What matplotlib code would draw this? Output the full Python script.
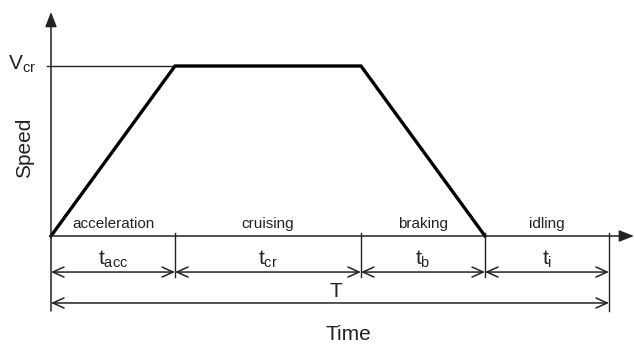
import matplotlib
matplotlib.use("agg")
import matplotlib.pyplot as plt

plt.rcParams['font.family'] = ['Liberation Sans', 'DejaVu Sans']
plt.rcParams['mathtext.fontset'] = 'custom'
plt.rcParams['mathtext.rm'] = 'Liberation Sans'
plt.rcParams['mathtext.it'] = 'Liberation Sans'

# driving cycle phases
phase_names = ['acceleration', 'cruising', 'braking', 'idling']
phase_durations = [2, 3, 2, 2]
phase_symbols = ['acc', 'cr', 'b', 'i']
v_cruise = 1.0

# speed profile corner points
profile_t = [0, 2, 5, 7]
profile_v = [0, v_cruise, v_cruise, 0]

total = sum(phase_durations)
bounds = [0]
for d in phase_durations:
    bounds.append(bounds[-1] + d)

ink = '#222222'
fig = plt.figure(figsize=(6.34, 3.45), dpi=100)
ax = fig.add_axes([0, 0, 1, 1])
ax.set_xlim(-51 / 62, 583 / 62)
ax.set_ylim(-109 / 170, 236 / 170)
ax.axis('off')

# axes with arrows
ax.annotate('', xy=(0, 1.318), xytext=(0, -0.441),
            arrowprops=dict(arrowstyle='-|>,head_length=0.9,head_width=0.35',
                            lw=1.1, color=ink, shrinkA=0, shrinkB=0))
ax.annotate('', xy=(583 / 62, 0), xytext=(0, 0),
            arrowprops=dict(arrowstyle='-|>,head_length=0.9,head_width=0.35',
                            lw=1.1, color=ink, shrinkA=0, shrinkB=0))

# cruise speed reference line
ax.plot([-0.065, profile_t[1]], [v_cruise, v_cruise], color=ink, lw=1)
ax.text(-0.24, 0.976, r'$\mathrm{V}_{\mathrm{cr}}$', ha='right', va='baseline',
        fontsize=15, color=ink)

# speed profile
ax.plot(profile_t, profile_v, color='black', lw=2.4, solid_joinstyle='miter')

# phase boundaries
for b in bounds[1:-1]:
    ax.plot([b, b], [0.018, -0.241], color=ink, lw=1)
ax.plot([total, total], [0.018, -0.441], color=ink, lw=1)

arrow = dict(arrowstyle='<->,head_length=0.8,head_width=0.36',
             lw=1.1, color=ink, shrinkA=0, shrinkB=0)
for name, sym, a, b in zip(phase_names, phase_symbols, bounds[:-1], bounds[1:]):
    mid = (a + b) / 2
    ax.text(mid, 0.047, name, ha='center', va='baseline', fontsize=11, color=ink)
    ax.annotate('', xy=(b, -0.212), xytext=(a, -0.212), arrowprops=arrow)
    ax.text(mid, -0.171, r'$\mathrm{t}_{\mathrm{%s}}$' % sym, ha='center',
            va='baseline', fontsize=15, color=ink)

# whole cycle
ax.annotate('', xy=(total, -0.394), xytext=(0, -0.394), arrowprops=arrow)
ax.text(total / 2 + 0.1, -0.359, 'T', ha='center', va='baseline', fontsize=15, color=ink)

ax.text(4.8, -0.612, 'Time', ha='center', va='baseline', fontsize=15, color=ink)
ax.text(-0.42, 0.518, 'Speed', ha='center', va='center', rotation=90,
        fontsize=15, color=ink)

fig.savefig('out.png', dpi=100)
plt.close(fig)
